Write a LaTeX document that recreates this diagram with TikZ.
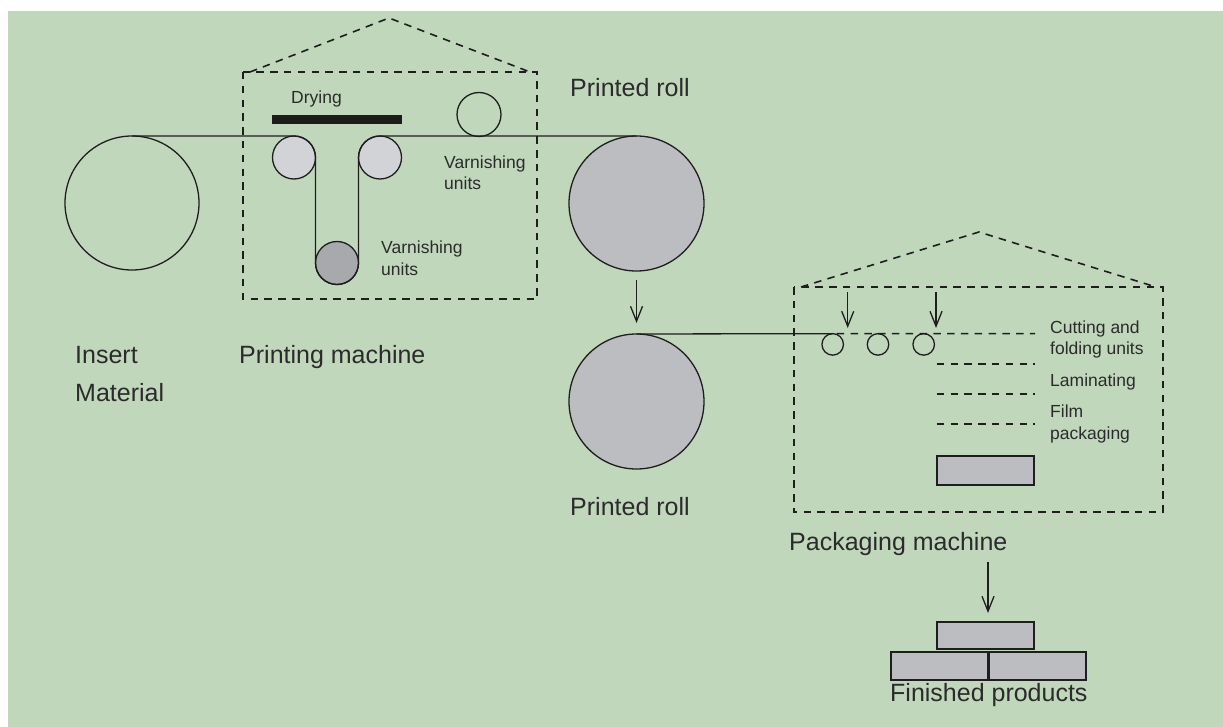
\documentclass[tikz,border=0pt]{standalone}
\usepackage{fontspec}
\setmainfont{Liberation Sans}
\usetikzlibrary{arrows.meta}
\definecolor{bggreen}{RGB}{193,215,188}
\definecolor{rollgray}{RGB}{188,189,193}
\definecolor{lightroll}{RGB}{210,211,214}
\definecolor{darkroll}{RGB}{168,169,173}
\definecolor{linec}{RGB}{30,30,30}
\definecolor{txtc}{RGB}{43,43,43}
\definecolor{barc}{RGB}{28,28,28}
\begin{document}
\begin{tikzpicture}[x=1pt,y=1pt,
  ln/.style={draw=linec, line width=1.3pt},
  dsh/.style={draw=linec, line width=1.6pt, dash pattern=on 7.5pt off 6.3pt},
  roll/.style={circle, draw=linec, line width=1.3pt, inner sep=0pt, outer sep=0pt, minimum size=#1},
  big/.style={font=\fontsize{25}{30}\selectfont, text=txtc, inner sep=0pt, anchor=base west},
  small/.style={font=\fontsize{17.5}{21}\selectfont, text=txtc, inner sep=0pt, anchor=base west},
  arr/.style={ln, -{Straight Barb[length=15pt,width=12pt,line width=1.3pt]}},
  prodbox/.style={rectangle, draw=linec, line width=1.8pt, fill=rollgray, inner sep=0pt, outer sep=0pt, minimum width=97pt}]
\useasboundingbox (0,0) rectangle (1223,-727);
\fill[white] (0,0) rectangle (1223,-727);
\fill[bggreen] (8,-11) rectangle (1223,-727);

% ---------- printing machine ----------
\draw[dsh] (243,-72) rectangle (537,-299);
\draw[dsh] (250,-72) -- (389,-18) -- (530,-72);
\fill[barc] (272,-115) rectangle (402,-124);

\node[roll=134pt] (lroll) at (132,-203) {};
\node[roll=43pt, fill=lightroll] (r1) at (294,-157.5) {};
\node[roll=43pt, fill=lightroll] (r2) at (380,-157.5) {};
\node[roll=43pt, fill=darkroll] (rb) at (337,-263) {};
\node[roll=44pt] (top) at (479,-114.5) {};
\node[roll=135pt, fill=rollgray] (proll1) at (636.5,-203.5) {};

\draw[ln] (lroll.north) -- (r1.north) arc[start angle=90,end angle=0,radius=21.5pt]
  -- (rb.west) arc[start angle=180,end angle=360,radius=21.5pt]
  -- (r2.west) arc[start angle=180,end angle=90,radius=21.5pt]
  -- (proll1.north);

\node[small] (drying) at (291,-104) {Drying};
\node[small] (v1a) at (444,-168.3) {Varnishing};
\node[small] (v1b) at (444,-190) {units};
\node[small] (v2a) at (381,-253.3) {Varnishing};
\node[small] (v2b) at (381,-276) {units};
\node[big] (prtop) at (570,-96.5) {Printed roll};
\node[big] (insert) at (75,-363) {Insert};
\node[big] (material) at (75,-401) {Material};
\node[big] (pm) at (239,-363) {Printing machine};

% ---------- second roll ----------
\node[roll=135pt, fill=rollgray] (proll2) at (636.5,-401.5) {};
\draw[arr] ([yshift=-9pt]proll1.south) -- ([yshift=11pt]proll2.north);
\node[big] (prlow) at (570,-515) {Printed roll};

% ---------- packaging machine ----------
\draw[dsh] (794,-287) rectangle (1163,-512);
\draw[dsh] (801,-287) -- (979,-232) -- (1156,-287);

\node[roll=21.5pt] (c1) at (832.7,-344.4) {};
\node[roll=21.5pt] (c2) at (878,-344.4) {};
\node[roll=21.5pt] (c3) at (923.7,-344.4) {};
\draw[ln] (proll2.north) -- (c1.north);
\coordinate (cutend) at (1035,-333.6);
\draw[dsh] ([xshift=4pt]c1.north) -- (cutend);
\draw[dsh] (936.7,-364) -- (1035,-364);
\draw[dsh] (936.7,-394) -- (1035,-394);
\draw[dsh] (936.7,-424) -- (1035,-424);

\coordinate (a1s) at (847.7,-292);
\coordinate (a1e) at (847.7,-328);
\coordinate (a2s) at (936,-292);
\coordinate (a2e) at (936,-328);
\draw[arr] (a1s) -- (a1e);
\draw[arr] (a2s) -- (a2e);

\node[prodbox, minimum height=29pt] (inbox) at (985.4,-470.5) {};

\node[small] (cut1) at (1050,-333.3) {Cutting and};
\node[small] (cut2) at (1050,-354) {folding units};
\node[small] (lam) at (1050,-386) {Laminating};
\node[small] (film1) at (1050,-417.3) {Film};
\node[small] (film2) at (1050,-439) {packaging};
\node[big] (packm) at (789,-550) {Packaging machine};

% ---------- finished products ----------
\node[prodbox, minimum height=27.6pt] (fp1) at (985.5,-635.5) {};
\node[prodbox, minimum height=28.3pt] (fp2) at (939.2,-665.9) {};
\node[prodbox, minimum height=28.3pt] (fp3) at (1037.5,-665.9) {};
\coordinate (pa) at (988,-562);
\draw[arr] (pa) -- (988,-613);
\node[big] (fin) at (890,-701.7) {Finished products};
\end{tikzpicture}
\end{document}
